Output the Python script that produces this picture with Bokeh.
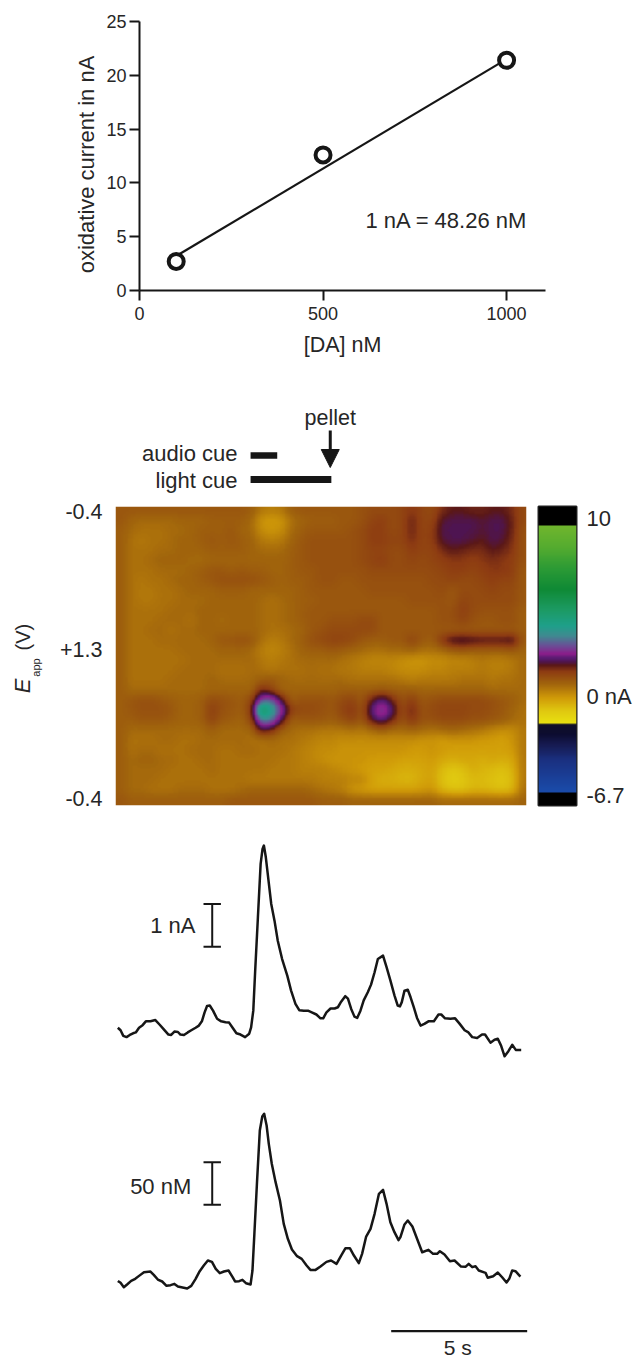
import numpy as np
from bokeh.embed import file_html
from bokeh.resources import INLINE
from bokeh.core.properties import value
from bokeh.layouts import column, row
from bokeh.models import (Range1d, FixedTicker, Label, LinearColorMapper, Arrow, NormalHead)
from bokeh.plotting import figure

FONT = "Liberation Sans"
INK = "#161616"
TXT = "#262626"

# ---------- calibration ----------
da_nM = [100, 500, 1000]
current_nA = [2.7, 12.6, 21.4]
fit_x = [100, 1000]
fit_y = [3.2, 21.5]

# ---------- cues (seconds) ----------
audio_cue = [4.88, 5.86]
light_cue = [4.88, 7.85]
pellet_t = 7.81

# ---------- traces ----------
t1 = [0,.10,.20,.32,.44,.56,.66,.78,.91,1.03,1.20,1.38,1.54,1.69,1.86,1.96,2.08,2.21,2.30,2.43,2.57,2.70,2.86,2.98,3.09,3.19,3.28,3.38,3.50,3.65,3.80,3.96,4.09,4.22,4.36,4.51,4.68,4.83,4.90,4.98,5.05,5.15,5.25,5.32,5.37,5.44,5.54,5.64,5.76,5.88,6.04,6.23,6.37,6.53,6.67,6.84,6.99,7.13,7.30,7.45,7.55,7.67,7.82,7.97,8.09,8.21,8.36,8.46,8.58,8.70,8.80,8.92,9.04,9.19,9.31,9.44,9.56,9.75,9.88,10.02,10.17,10.29,10.37,10.44,10.54,10.66,10.76,10.88,11.00,11.13,11.27,11.42,11.62,11.79,11.89,12.03,12.23,12.40,12.57,12.75,12.89,13.03,13.21,13.39,13.50,13.70,13.85,13.97,14.09,14.22,14.36,14.50,14.63,14.83]
nA1 = [.69,.63,.50,.47,.52,.56,.58,.69,.75,.84,.84,.87,.76,.65,.53,.52,.60,.59,.53,.52,.58,.63,.69,.74,.84,1.05,1.20,1.21,1.09,.90,.84,.82,.81,.69,.56,.53,.47,.55,.70,1.09,2.03,3.28,4.53,4.88,4.96,4.69,4.14,3.59,3.20,2.73,2.30,1.91,1.56,1.25,1.10,1.09,1.09,1.05,1.00,.91,.91,1.05,1.14,1.14,1.17,1.30,1.43,1.37,1.13,.95,.92,1.09,1.33,1.52,1.70,1.99,2.30,2.38,2.11,1.80,1.45,1.21,1.19,1.29,1.56,1.58,1.41,1.17,.92,.74,.78,.84,.84,1.00,1.00,.91,.90,.91,.78,.63,.58,.47,.45,.53,.53,.34,.41,.43,.27,.02,.14,.29,.17,.17]
t2 = [0,.10,.22,.34,.49,.64,.78,.96,1.20,1.32,1.47,1.63,1.79,1.94,2.08,2.21,2.38,2.55,2.70,2.86,3.01,3.16,3.31,3.46,3.60,3.75,3.90,4.07,4.22,4.31,4.46,4.58,4.71,4.88,4.95,5.02,5.12,5.22,5.31,5.38,5.47,5.55,5.66,5.80,5.96,6.10,6.25,6.40,6.59,6.76,6.94,7.08,7.27,7.45,7.67,7.84,8.04,8.21,8.37,8.53,8.68,8.86,8.98,9.13,9.29,9.44,9.60,9.75,9.88,10.02,10.17,10.32,10.39,10.54,10.66,10.83,10.98,11.19,11.42,11.59,11.74,11.84,12.01,12.21,12.38,12.62,12.78,12.90,13.03,13.15,13.27,13.52,13.60,13.80,13.97,14.13,14.29,14.39,14.50,14.62,14.80]
nM2 = [23.0,20.7,15.6,18.8,23.0,25.4,28.9,33.2,34.0,30.1,24.6,22.3,17.2,18.0,19.5,16.4,15.2,14.1,17.2,25.4,34.4,41.0,46.9,45.3,37.1,32.0,34.0,35.2,27.3,22.3,22.7,24.2,20.3,18.8,35.2,78.1,140.6,199.2,215.6,218.8,205.1,183.6,160.2,138.7,117.2,89.8,72.3,59.8,52.0,48.8,41.0,35.9,35.9,39.8,45.3,46.9,43.0,52.7,61.3,61.3,52.7,43.8,54.7,75.0,84.0,101.6,125.0,129.7,113.3,91.8,80.1,70.7,74.2,89.1,93.8,86.7,74.2,56.6,59.4,54.7,54.7,57.8,53.9,46.1,46.9,39.8,39.5,43.0,39.1,40.2,35.2,32.4,26.6,28.5,32.8,27.3,21.1,25.4,35.2,34.4,28.1]

# ---------- colour plot: current in tenths of nA, rows from the top (-0.4 V) down ----------
heat_rows = [
[3,3,3,3,3,3,3,3,3,3,3,3,3,2,-2,-3,-2,2,3,3,3,3,3,3,4,5,5,5,6,8,6,5,9,11,11,10,10,11,11,9,5],
[3,1,0,0,0,0,1,1,1,2,2,2,2,0,-6,-7,-6,-1,1,2,2,2,3,3,4,6,7,5,6,10,6,6,12,13,13,13,12,13,13,10,5],
[2,0,-1,-1,-1,0,0,1,2,2,2,3,1,0,-5,-6,-5,0,2,3,3,3,3,4,5,7,7,5,6,10,6,7,13,13,13,13,12,13,13,10,4],
[2,-1,-2,-1,-1,0,1,1,2,3,2,3,2,1,-2,-3,-2,1,3,4,4,4,4,4,5,7,7,6,6,9,6,7,12,13,13,12,11,13,12,9,4],
[2,-1,-1,-1,0,0,1,1,1,2,2,2,2,1,0,0,0,2,3,4,4,4,4,4,5,6,6,5,5,7,6,6,9,11,10,9,9,11,10,8,4],
[2,-1,-1,0,1,1,1,0,0,1,1,1,1,1,1,1,1,2,3,4,4,4,4,4,5,6,7,5,5,6,5,6,7,8,8,7,8,9,8,7,4],
[2,-1,-1,-1,0,0,0,1,2,3,3,2,3,2,2,1,1,2,3,3,4,4,4,4,4,5,5,5,5,5,5,5,6,7,7,6,7,8,8,7,3],
[2,-1,-2,-1,-1,0,1,1,2,3,4,4,4,4,3,2,1,2,2,3,4,4,3,3,4,4,4,4,4,4,4,5,5,6,5,5,6,7,6,6,3],
[2,-1,-2,-2,-1,-1,0,1,1,1,2,2,2,1,1,1,1,1,2,3,3,3,3,3,3,4,4,4,4,4,4,4,5,3,5,5,5,6,5,5,3],
[2,-1,-2,-2,-1,-1,0,0,0,1,1,1,1,1,0,-1,0,1,2,2,3,3,3,3,3,3,3,3,3,4,4,4,4,3,6,5,5,5,5,5,3],
[2,-1,-1,-1,-1,0,0,0,1,1,1,1,1,1,0,-1,0,1,2,3,3,3,3,3,3,3,3,3,3,3,3,3,4,4,7,5,4,4,4,4,2],
[2,-1,-1,-1,0,0,0,-1,1,1,0,1,1,1,0,-1,0,1,2,3,3,4,4,4,5,5,3,3,3,3,3,3,4,4,6,4,3,3,4,4,2],
[2,-1,-1,0,0,-1,0,0,1,1,1,1,1,1,0,-1,-1,0,1,3,4,5,5,5,5,5,3,3,3,3,3,3,3,3,3,3,3,3,3,3,2],
[2,-1,-1,-1,0,0,0,0,0,1,3,3,4,3,-1,-3,-2,0,2,4,5,6,6,5,3,2,2,3,3,6,3,2,8,13,14,13,12,12,12,13,3],
[2,-1,-1,-1,-1,-1,0,0,0,0,1,1,1,0,-3,-4,-3,-1,1,2,2,3,2,1,0,-1,-1,0,0,1,-1,-1,0,2,3,2,2,2,2,3,1],
[2,-1,-1,-1,-1,-1,-1,0,0,0,0,0,0,0,-2,-3,-2,-1,0,0,0,0,-1,-2,-3,-4,-4,-4,-5,-6,-6,-5,-5,-4,-4,-3,-2,-3,-3,-2,0],
[2,-1,-1,-1,-1,-1,0,0,0,0,-1,-1,-1,0,-1,-2,-1,-1,-1,0,-1,-1,-2,-2,-3,-3,-3,-4,-5,-5,-5,-4,-4,-3,-3,-3,-2,-3,-3,-2,0],
[2,-1,-1,-1,-1,0,0,0,0,1,0,0,0,0,2,3,1,0,0,0,0,0,0,-1,-1,-1,-1,-1,-2,-3,-2,-2,-2,-2,-1,-1,-1,-2,-1,-1,0],
[2,0,0,0,0,0,0,0,0,1,1,1,1,1,10,6,1,1,1,1,1,1,2,2,2,2,3,2,2,2,1,1,1,1,1,1,1,0,0,0,0],
[2,3,4,4,3,2,1,1,2,5,4,3,2,6,22,24,12,2,4,4,4,3,5,6,3,11,16,10,4,7,3,4,5,5,5,5,5,4,3,2,0],
[2,3,4,4,4,3,1,1,2,7,4,3,2,8,46,34,20,7,5,5,4,3,6,8,4,16,22,15,5,10,4,5,6,6,6,5,5,4,3,1,-1],
[2,2,3,3,3,2,1,1,2,6,3,2,1,6,28,26,13,2,3,3,3,2,4,6,3,12,16,10,4,8,4,4,5,5,5,4,4,3,2,0,-1],
[2,0,0,0,0,0,0,0,0,2,0,0,0,1,12,9,2,0,-1,-1,-2,-2,-2,-1,-2,0,2,0,0,1,0,-1,0,1,0,-1,-2,-4,-5,-5,-2],
[2,-1,-1,-1,0,0,-1,-1,0,0,0,0,0,-1,-1,0,-1,-1,-2,-3,-4,-4,-5,-5,-5,-5,-5,-5,-5,-5,-6,-6,-7,-6,-6,-6,-7,-7,-8,-6,-2],
[2,-1,0,0,-1,-1,-1,0,0,0,-1,-1,0,0,-1,-1,-1,-2,-3,-4,-5,-5,-6,-6,-6,-6,-6,-6,-6,-7,-7,-6,-7,-8,-8,-8,-8,-8,-8,-7,-2],
[2,0,1,1,0,0,-1,-1,0,0,-1,-1,-1,-1,-1,-1,-2,-2,-3,-4,-5,-6,-6,-6,-6,-7,-7,-7,-8,-8,-8,-7,-9,-10,-9,-9,-10,-9,-10,-9,-2],
[2,0,0,0,0,-1,-1,-1,-1,0,-1,-1,-1,-1,-1,-2,-2,-2,-3,-3,-3,-4,-5,-6,-7,-8,-8,-9,-10,-10,-9,-8,-12,-14,-13,-10,-11,-12,-13,-11,-2],
[2,0,0,0,-1,-1,-1,-1,-1,-1,-1,-1,-1,-2,-2,-2,-2,-2,-2,-2,-3,-3,-3,-4,-4,-8,-10,-10,-11,-11,-9,-8,-13,-15,-14,-12,-12,-13,-14,-12,-2],
[2,0,0,-1,-1,-1,0,0,0,-1,-1,-1,0,1,1,1,1,1,1,0,-1,-2,-3,-6,-7,-8,-8,-8,-8,-8,-7,-6,-11,-13,-13,-11,-11,-12,-13,-11,-1],
[3,2,2,2,2,2,2,2,2,2,2,3,3,3,3,3,3,3,3,3,2,2,2,1,1,1,1,1,1,1,1,1,0,0,0,0,0,0,0,0,1],
]

# colour scale, nA level -> colour
scale_levels = [-6.7,-6.03,-6.02,-5.87,-4.21,-3.29,-2.73,-2.16,-2.15,-2.09,-1.44,-.70,.04,.77,1.11,1.30,1.50,1.80,2.25,2.80,3.36,4.28,5.39,6.49,7.79,8.93,8.97,8.98,10]
scale_colors = ["#000000","#000000","#1a4aa8","#1a4aa8","#1a3080","#161a50","#0c0c30","#101028","#e8e010","#e8e010","#e0c810","#d09a08","#a2660c","#8c3a12","#5a1818","#4e1450","#5a1c72","#8a1e8a","#6a4f96","#3f8a90","#1ea08a","#1c9a62","#0f8a35","#2a9a35","#55ac2f","#6fb52d","#6fb52d","#000000","#000000"]

def rgb(c):
    return [int(c[i:i + 2], 16) for i in (1, 3, 5)]
_grid = np.linspace(-6.7, 10, 512)
_rgb = np.array([rgb(c) for c in scale_colors], float)
palette = ["#%02x%02x%02x" % tuple(int(round(np.interp(g, scale_levels, _rgb[:, k]))) for k in range(3)) for g in _grid]
mapper = LinearColorMapper(palette=palette, low=-6.7, high=10)


def soften(arr, k=6):
    """Display smoothing of the hand-read grid, as the blurred original shows it."""
    ny, nx = arr.shape
    xs = (np.arange(nx * k) + .5) / k - .5
    ys = (np.arange(ny * k) + .5) / k - .5
    out = np.array([np.interp(xs, np.arange(nx), r) for r in arr])
    out = np.array([np.interp(ys, np.arange(ny), c) for c in out.T]).T
    kern = np.ones(k) / k
    out = np.apply_along_axis(lambda v: np.convolve(np.pad(v, k, mode="edge"), kern, mode="same")[k:-k], 0, out)
    out = np.apply_along_axis(lambda v: np.convolve(np.pad(v, k, mode="edge"), kern, mode="same")[k:-k], 1, out)
    return out


def bare(p):
    p.outline_line_color = None
    p.grid.visible = False
    p.background_fill_color = None
    p.border_fill_color = None


def side_labels(w, h, items):
    """Narrow strip left of a panel, holding the panel's rotated axis title; y counts from the strip's top."""
    s = figure(width=w, height=h, x_range=Range1d(0, w), y_range=Range1d(h, 0), toolbar_location=None,
               output_backend="svg", min_border_left=0, min_border_right=0, min_border_top=0,
               min_border_bottom=0, x_axis_location=None, y_axis_location=None)
    bare(s)
    for (txt, x, y, size, style) in items:
        s.text(x=[x], y=[y], text=[txt], angle=np.pi / 2, text_align="center", text_baseline="middle",
               text_font=value(FONT), text_font_size=f"{size}px", text_font_style=style, text_color=TXT)
    return s


# ---------- A: calibration ----------
a_side = side_labels(100, 380, [("oxidative current in nA", 86, 202, 22, "normal")])
a = figure(width=534, height=380, x_range=Range1d(0, 1106), y_range=Range1d(0, 25),
           toolbar_location=None, output_backend="svg", min_border_left=39, min_border_right=89,
           min_border_top=21, min_border_bottom=90)
bare(a)
a.line(fit_x, fit_y, line_color=INK, line_width=2.2)
a.scatter(da_nM, current_nA, marker="circle", size=15, fill_color="white", line_color=INK, line_width=4)
a.xaxis.ticker = FixedTicker(ticks=[0, 500, 1000])
a.yaxis.ticker = FixedTicker(ticks=[0, 5, 10, 15, 20, 25])
for ax in (a.xaxis[0], a.yaxis[0]):
    ax.axis_line_color = INK
    ax.axis_line_width = 2
    ax.major_tick_line_color = INK
    ax.major_tick_line_width = 2
    ax.major_tick_in = 0
    ax.major_tick_out = 10
    ax.minor_tick_line_color = None
    ax.major_label_text_font = FONT
    ax.major_label_text_font_size = "18px"
    ax.major_label_text_color = TXT
a.xaxis[0].major_label_standoff = 6
a.yaxis[0].major_label_standoff = 3
a.yaxis[0].major_label_orientation = "horizontal"
a.xaxis[0].axis_label = "[DA] nM"
a.xaxis[0].axis_label_text_font = FONT
a.xaxis[0].axis_label_text_font_style = "normal"
a.xaxis[0].axis_label_text_font_size = "21.5px"
a.xaxis[0].axis_label_text_color = TXT
a.xaxis[0].axis_label_standoff = 10
a.add_layout(Label(x=346, y=220, x_units="canvas", y_units="canvas", text="1 nA = 48.26 nM", text_font=FONT,
                   text_font_size="22px", text_color=TXT, text_align="center", text_baseline="middle"))

# ---------- C: cues ----------
T_HEAT = (-0.086, 15.025)
c = figure(width=634, height=115, x_range=Range1d(*T_HEAT), y_range=Range1d(0, 115),
           toolbar_location=None, output_backend="svg", min_border_left=115, min_border_right=108,
           min_border_top=0, min_border_bottom=0, x_axis_location=None, y_axis_location=None)
bare(c)
c.segment(x0=[audio_cue[0]], y0=[40], x1=[audio_cue[1]], y1=[40], line_color=INK, line_width=6.5)
c.segment(x0=[light_cue[0]], y0=[16], x1=[light_cue[1]], y1=[16], line_color=INK, line_width=7)
c.add_layout(Arrow(end=NormalHead(size=18, fill_color=INK, line_color=INK), x_start=pellet_t, y_start=65,
                   x_end=pellet_t, y_end=28, line_color=INK, line_width=3))
c.text(x=[4.40, 4.40], y=[42, 15], text=["audio cue", "light cue"], text_align="right", text_baseline="middle",
       text_font=value(FONT), text_font_size="22px", text_color=TXT)
c.text(x=[pellet_t], y=[78], text=["pellet"], text_align="center", text_baseline="middle",
       text_font=value(FONT), text_font_size="21.5px", text_color=TXT)

# ---------- D: colour plot ----------
d_side = side_labels(50, 325, [("E", 22, 195, 22, "italic"), ("app", 35, 175, 11, "normal"), ("(V)", 22, 142, 20, "normal")])
d = figure(width=482, height=325, x_range=Range1d(*T_HEAT), y_range=Range1d(0, 1),
           toolbar_location=None, output_backend="svg", min_border_left=65, min_border_right=6,
           min_border_top=11, min_border_bottom=15, x_axis_location=None)
bare(d)
heat = soften(np.flipud(np.array(heat_rows, dtype=float)) / 10.0)
d.image(image=[heat], x=T_HEAT[0], y=0, dw=T_HEAT[1] - T_HEAT[0], dh=1, color_mapper=mapper)
ya = d.yaxis[0]
ya.ticker = FixedTicker(ticks=[0.023, 0.523, 0.983])
ya.major_label_overrides = {0.023: "-0.4", 0.523: "+1.3", 0.983: "-0.4"}
ya.major_tick_line_color = None
ya.minor_tick_line_color = None
ya.axis_line_color = None
ya.major_tick_out = 0
ya.major_tick_in = 0
ya.major_label_standoff = 13
ya.major_label_text_font = FONT
ya.major_label_text_font_size = "21.5px"
ya.major_label_text_color = TXT
ya.major_label_orientation = "horizontal"

# ---------- colour scale ----------
cb_levels = np.linspace(-6.7, 10, 302)[:, None]
b = figure(width=102, height=325, x_range=Range1d(0, 1), y_range=Range1d(-6.7, 10),
           toolbar_location=None, output_backend="svg", min_border_left=6, min_border_right=56,
           min_border_top=10, min_border_bottom=13, x_axis_location=None, y_axis_location="right")
bare(b)
b.image(image=[cb_levels], x=0, y=-6.7, dw=1, dh=16.7, color_mapper=mapper)
b.outline_line_color = "#222222"
b.outline_line_width = 2
yb = b.yaxis[0]
yb.ticker = FixedTicker(ticks=[9.34, -0.62, -6.15])
yb.major_label_overrides = {9.34: "10", -0.62: "0 nA", -6.15: "-6.7"}
yb.major_tick_line_color = None
yb.minor_tick_line_color = None
yb.axis_line_color = None
yb.major_tick_out = 0
yb.major_tick_in = 0
yb.major_label_standoff = 10
yb.major_label_text_font = FONT
yb.major_label_text_font_size = "22px"
yb.major_label_text_color = TXT
yb.major_label_orientation = "horizontal"


# ---------- traces ----------
def trace_fig(h, y0, y1):
    f = figure(width=634, height=h, x_range=Range1d(-0.086, 15.356), y_range=Range1d(y0, y1),
               toolbar_location=None, output_backend="svg", min_border_left=115, min_border_right=99,
               min_border_top=0, min_border_bottom=0, x_axis_location=None, y_axis_location=None)
    bare(f)
    return f


def scale_bar(f, t, lo, hi, cap=0.32):
    f.segment(x0=[t], y0=[lo], x1=[t], y1=[hi], line_color=INK, line_width=2)
    f.segment(x0=[t - cap, t - cap], y0=[lo, hi], x1=[t + cap, t + cap], y1=[lo, hi], line_color=INK, line_width=2)


def note(f, t, y, s, align="right", size=22):
    f.text(x=[t], y=[y], text=[s], text_align=align, text_baseline="middle", text_font=value(FONT),
           text_font_size=f"{size}px", text_color=TXT)


e = trace_fig(260, -0.547, 5.547)
e.line(t1, nA1, line_color=INK, line_width=2.5, line_join="round")
scale_bar(e, 3.47, 2.59, 3.59)
note(e, 2.855, 3.09, "1 nA")

f2 = trace_fig(279, -69.1, 257.8)
f2.line(t2, nM2, line_color=INK, line_width=2.5, line_join="round")
scale_bar(f2, 3.47, 112.1, 162.1)
note(f2, 2.70, 134, "50 nM")
f2.segment(x0=[10.05], y0=[-35.9], x1=[15.05], y1=[-35.9], line_color=INK, line_width=2.2)
note(f2, 12.5, -55.1, "5 s", align="center", size=21)

page = column(row(a_side, a, spacing=0), row(c), row(d_side, d, b, spacing=0), row(e), row(f2), spacing=0)
open("out.html", "w").write(file_html(page, INLINE))
